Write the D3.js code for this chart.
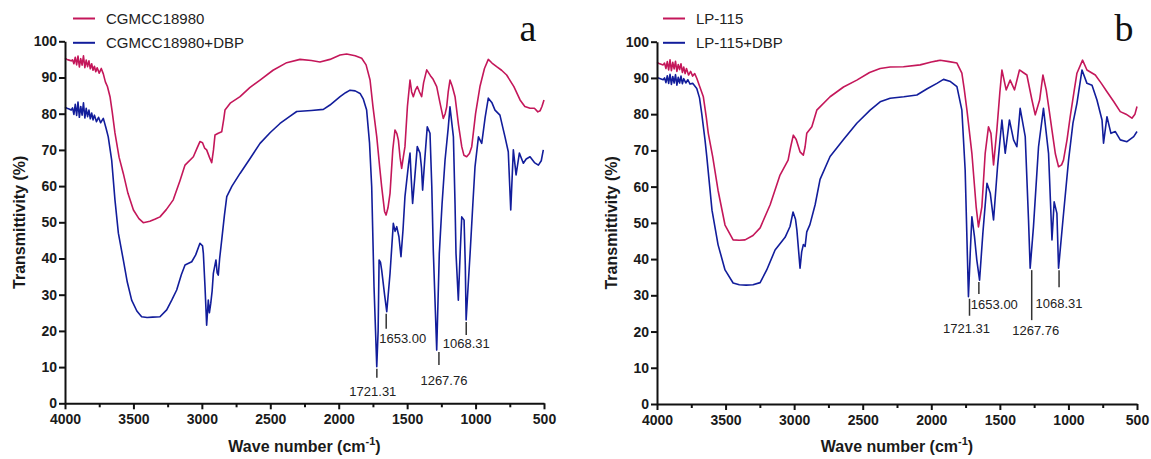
<!DOCTYPE html>
<html>
<head>
<meta charset="utf-8">
<script src="https://cdn.jsdelivr.net/npm/d3@7"></script>
<style>
  body { margin: 0; background: #fff; }
  svg { display: block; font-family: Arial, "Liberation Sans", sans-serif; }
  .tick text { font-size: 14px; font-weight: bold; fill: #1a1a1a; }
  .tick line, .domain { stroke: #111; stroke-width: 2px; }
</style>
</head>
<body>
<div class="vis-ftir"></div>
<script>
// wavenumber (cm-1), transmittance (%)
const cgmcc = [[4000,95.3],[3985,95.0],[3970,94.8],[3955,94.6],[3945,94.9],[3935,93.8],[3925,95.6],[3915,93.5],[3905,95.9],[3895,92.9],[3885,95.2],[3875,93.4],[3865,96.0],[3855,92.7],[3845,94.8],[3835,93.0],[3825,94.6],[3815,92.4],[3805,93.8],[3795,92.0],[3785,93.1],[3775,91.6],[3765,92.7],[3750,91.2],[3735,92.5],[3720,91.0],[3705,88.8],[3690,87.5],[3671,84.7],[3655,80.5],[3635,74.7],[3605,68],[3574,63.5],[3540,58],[3500,53.4],[3460,51],[3428,49.9],[3380,50.3],[3340,50.9],[3306,51.5],[3260,53.5],[3209,56.2],[3160,61.5],[3123,65.8],[3062,68.1],[3035,70.5],[3014,72.3],[2995,72],[2980,70.5],[2965,70],[2945,68],[2928,66.5],[2915,70],[2904,74.1],[2880,74.6],[2855,75],[2840,78.5],[2831,81],[2790,83],[2721,84.7],[2650,87.2],[2575,89.3],[2480,92],[2380,94.1],[2283,95],[2200,94.7],[2137,94.3],[2064,95],[1990,96.2],[1942,96.5],[1880,96],[1832,95.3],[1800,93.5],[1771,89.3],[1750,82],[1722,73.6],[1700,65],[1686,59.8],[1665,53],[1654,52],[1640,54],[1625,58],[1605,70],[1589,75.5],[1575,74.5],[1564,72.7],[1552,68],[1540,64.9],[1528,68],[1516,70.9],[1498,82],[1479,89.3],[1467,86],[1455,84.7],[1440,86.5],[1426,87.5],[1410,86],[1394,84.7],[1380,88.5],[1357,92.1],[1330,90.5],[1310,89.5],[1284,87.5],[1260,83],[1236,78.7],[1222,80],[1211,81.9],[1200,86],[1187,89.3],[1170,87.5],[1150,84.7],[1125,77],[1101,70.9],[1085,68.5],[1065,68.1],[1045,69],[1028,70.9],[1000,80],[968,87.5],[935,92.5],[907,95],[880,94],[846,93],[810,92],[773,90.7],[720,87.5],[675,83.8],[640,82],[602,81.5],[570,81.5],[545,80.5],[529,80.8],[515,82],[500,83.8]];

const cgmccDbp = [[4000,81.8],[3985,81.5],[3970,81.3],[3955,81.0],[3945,81.6],[3935,79.8],[3925,82.6],[3915,79.5],[3905,83.2],[3895,79.0],[3885,82.0],[3875,79.6],[3865,83.0],[3855,78.8],[3845,81.5],[3835,79.2],[3825,81.0],[3815,78.6],[3805,80.2],[3795,78.3],[3785,79.6],[3770,77.8],[3755,79],[3740,77.5],[3720,78.7],[3700,76],[3684,73.6],[3659,67.2],[3635,56.2],[3610,47],[3574,39.6],[3545,33.5],[3513,28.5],[3475,25.5],[3440,23.9],[3400,23.7],[3360,23.8],[3306,23.9],[3257,25.8],[3220,28.5],[3184,31.3],[3150,35.5],[3123,38.2],[3074,39.1],[3045,41],[3014,44.2],[2995,43.5],[2989,41.4],[2977,32.2],[2965,21.6],[2953,28.5],[2945,25],[2935,27.6],[2925,31],[2916,35.9],[2897,39.6],[2888,36],[2880,35.4],[2870,40],[2855,45.1],[2835,52],[2818,57.1],[2780,60],[2721,63.5],[2650,67.5],[2575,71.8],[2500,74.8],[2429,77.3],[2360,79.2],[2307,80.6],[2200,80.9],[2112,81.2],[2064,82.4],[1990,84.7],[1950,85.8],[1917,86.5],[1880,86.3],[1844,85.6],[1820,84],[1796,81],[1775,72],[1759,59.8],[1742,32.2],[1722,10.1],[1712,20],[1705,39.6],[1695,39],[1686,36.8],[1665,30],[1649,25.3],[1625,35.9],[1601,49.7],[1588,47.5],[1576,48.8],[1560,46],[1545,40.5],[1530,48],[1516,57.1],[1490,66],[1479,69.1],[1470,62],[1460,55.2],[1445,62],[1426,70.9],[1406,69.1],[1395,65],[1387,58.9],[1370,68],[1353,76.4],[1333,74.6],[1320,60],[1309,42.3],[1284,14.7],[1265,41.4],[1245,55],[1223,67.2],[1200,76],[1187,81.9],[1162,73.6],[1150,55],[1143,41.4],[1126,28.5],[1112,42],[1101,51.5],[1084,50.6],[1075,38],[1069,23],[1055,32],[1040,41.4],[1020,55],[1004,65.4],[979,73.6],[955,71.8],[930,79],[907,84.3],[880,83],[858,81],[822,79.6],[800,76],[785,73.6],[761,69.5],[743,53.4],[724,70],[704,63.1],[680,69.1],[651,66.3],[630,67.5],[602,68.1],[570,66.5],[541,65.8],[520,67],[505,70]];

const lp115 = [[4000,94.3],[3985,94.0],[3970,93.8],[3955,93.6],[3945,94.1],[3935,92.6],[3925,94.5],[3915,92.2],[3905,95.0],[3895,92.0],[3885,94.3],[3875,92.5],[3865,94.6],[3855,91.8],[3845,93.7],[3835,92.3],[3825,93.9],[3815,91.5],[3805,93.0],[3795,91.2],[3785,92.6],[3770,90.8],[3755,91.8],[3740,90.5],[3725,91.2],[3710,89.9],[3690,87.8],[3662,84.8],[3640,79],[3626,74.7],[3594,68.3],[3555,59],[3504,49.4],[3445,45.3],[3400,45.2],[3358,45.3],[3300,46.5],[3248,48.6],[3175,55],[3103,63.2],[3044,67.3],[3025,71],[3006,74.2],[2985,73],[2957,69.6],[2933,68.7],[2920,71],[2908,74.7],[2871,76.5],[2835,81.1],[2738,84.8],[2640,87.5],[2543,89.4],[2450,91.5],[2373,92.6],[2300,93],[2203,93.1],[2081,93.6],[2000,94.4],[1959,94.7],[1935,94.9],[1870,94.5],[1813,94.1],[1777,91.3],[1760,87],[1740,81.1],[1704,69.2],[1673,54.5],[1656,48.9],[1631,54.5],[1607,69.2],[1583,76.5],[1565,74.7],[1546,66],[1522,75.6],[1500,86],[1485,92.2],[1454,86.7],[1425,89.4],[1393,86.7],[1357,92.2],[1330,91.5],[1303,90.8],[1266,83.9],[1242,79.8],[1210,83.9],[1186,90.8],[1162,86.7],[1140,81],[1120,75.6],[1095,69],[1072,65.5],[1050,66],[1036,67.3],[1010,73],[987,79.3],[960,86],[938,91.3],[897,94.9],[865,92.2],[804,90.8],[760,88.5],[719,86.2],[670,83.5],[622,80.7],[580,80],[537,78.9],[515,80],[500,82.1]];

const lp115Dbp = [[4000,90.1],[3985,89.9],[3970,89.7],[3955,89.5],[3945,90.0],[3935,88.7],[3925,90.6],[3915,88.5],[3905,91.0],[3895,88.2],[3885,90.4],[3875,88.6],[3865,90.9],[3855,88.0],[3845,90.2],[3835,88.6],[3825,90.5],[3815,88.4],[3805,89.8],[3790,88.6],[3775,89.5],[3759,88.3],[3740,88.5],[3710,87.1],[3690,84.5],[3674,80.2],[3650,72.9],[3637,68.3],[3599,53.5],[3555,44],[3504,37],[3445,33.4],[3400,32.9],[3350,32.8],[3300,32.9],[3248,33.5],[3200,37],[3139,42.5],[3066,46],[3030,49],[3008,53],[2990,51],[2980,48],[2957,37.5],[2945,42],[2933,44],[2920,43.5],[2908,47.5],[2885,49.5],[2847,55],[2811,62],[2738,68.3],[2640,73],[2543,77.5],[2446,81.1],[2373,83.4],[2300,84.4],[2200,84.8],[2105,85.3],[2030,87],[1959,88.5],[1911,89.6],[1860,89],[1813,87.6],[1777,81.1],[1753,64.6],[1729,29.6],[1716,41.6],[1704,51.7],[1685,46.2],[1668,39.7],[1648,34.2],[1624,47.1],[1594,60.9],[1570,58.2],[1546,50.8],[1517,65.5],[1485,78.4],[1461,69.2],[1430,78.4],[1400,72.9],[1376,71],[1352,81.6],[1315,73.8],[1291,50.8],[1279,37.5],[1255,48.9],[1218,71],[1182,81.6],[1145,69.2],[1120,45.3],[1104,55.8],[1084,52.6],[1072,37.5],[1040,50.8],[999,67.3],[967,77.5],[938,83],[901,92.2],[865,88.5],[828,88],[792,83.9],[755,78.4],[744,72],[719,79.3],[690,74.7],[658,75.2],[622,72.9],[573,72.4],[524,73.8],[500,75.2]];

const xTicks = [4000, 3500, 3000, 2500, 2000, 1500, 1000, 500];
const xMinor = [3750, 3250, 2750, 2250, 1750, 1250, 750];
const yTicks = [0, 10, 20, 30, 40, 50, 60, 70, 80, 90, 100];

// peak labels: wavenumber, label, transmittance at the peak (blue trace)
const peaksA = [[1721.31, '1721.31', 10.1], [1653.00, '1653.00', 25.3], [1267.76, '1267.76', 14.7], [1068.31, '1068.31', 23]];
const peaksB = [[1721.31, '1721.31', 29.6], [1653.00, '1653.00', 34.2], [1267.76, '1267.76', 37.5], [1068.31, '1068.31', 37.5]];

const colors = ['#c4175a', '#121d9b'];

const panels = [
    {
        left: 65, right: 544, top: 41.3, bottom: 403.3, yTitleX: 20, legendX: 73, letter: 'a', letterX: 528,
        series: [cgmcc, cgmccDbp], names: ['CGMCC18980', 'CGMCC18980+DBP'], peaks: peaksA,
        // line length, text dx, text dy below line end, anchor
        peakLayout: [[9, -4, 18, 'middle'], [15, -7, 14, 'start'], [13, 5, 19.5, 'middle'], [13, 0, 12.5, 'middle']]
    },
    {
        left: 657, right: 1137, top: 41.7, bottom: 404, yTitleX: 612, legendX: 663, letter: 'b', letterX: 1124,
        series: [lp115, lp115Dbp], names: ['LP-115', 'LP-115+DBP'], peaks: peaksB,
        peakLayout: [[17, -3, 17.5, 'middle'], [12, -8, 14.5, 'start'], [50, 4, 15, 'middle'], [17, 0, 20.5, 'middle']]
    }
];

const svg = d3.select('.vis-ftir').append('svg')
    .attr('width', 1151)
    .attr('height', 459);

panels.forEach(p => {
    let x = d3.scaleLinear().domain([4000, 500]).range([p.left, p.right]);
    let y = d3.scaleLinear().domain([0, 100]).range([p.bottom, p.top]);
    let g = svg.append('g');

    // series
    const line = d3.line().x(d => x(d[0])).y(d => y(d[1]));
    p.series.forEach((s, i) => {
        g.append('path')
            .datum(s)
            .attr('fill', 'none')
            .attr('stroke', colors[i])
            .attr('stroke-width', 1.6)
            .attr('stroke-linejoin', 'round')
            .attr('d', line);
    });

    // minor x ticks
    g.append('g')
        .attr('transform', 'translate(0,' + p.bottom + ')')
        .call(d3.axisBottom(x).tickValues(xMinor).tickSize(4).tickFormat(''))
        .call(a => a.select('.domain').remove());

    // x axis
    g.append('g')
        .attr('transform', 'translate(0,' + p.bottom + ')')
        .call(d3.axisBottom(x).tickValues(xTicks).tickSize(6).tickSizeOuter(0).tickPadding(5).tickFormat(d3.format('d')));

    // y axis
    g.append('g')
        .attr('transform', 'translate(' + p.left + ',0)')
        .call(d3.axisLeft(y).tickValues(yTicks).tickSize(6).tickSizeOuter(0).tickPadding(2));

    // axis titles
    const xt = g.append('text')
        .attr('x', (p.left + p.right) / 2)
        .attr('y', 452)
        .attr('text-anchor', 'middle')
        .attr('font-size', 16)
        .attr('font-weight', 'bold')
        .attr('fill', '#1a1a1a');
    xt.append('tspan').text('Wave number (cm');
    xt.append('tspan').attr('dy', -7).attr('font-size', 11).text('-1');
    xt.append('tspan').attr('dy', 7).text(')');

    g.append('text')
        .attr('transform', 'translate(' + (p.yTitleX + 5) + ',' + (p.top + p.bottom) / 2 + ') rotate(-90)')
        .attr('text-anchor', 'middle')
        .attr('font-size', 16)
        .attr('font-weight', 'bold')
        .attr('fill', '#1a1a1a')
        .text('Transmittivity (%)');

    // legend
    p.names.forEach((n, i) => {
        const ly = 18.5 + i * 24.3;
        g.append('line')
            .attr('x1', p.legendX).attr('x2', p.legendX + 22)
            .attr('y1', ly).attr('y2', ly)
            .attr('stroke', colors[i]).attr('stroke-width', 2);
        g.append('text')
            .attr('x', p.legendX + 33).attr('y', ly + 5.5)
            .attr('font-size', 15)
            .attr('fill', '#222')
            .text(n);
    });

    // panel letter
    g.append('text')
        .attr('x', p.letterX).attr('y', 41)
        .attr('text-anchor', 'middle')
        .attr('font-family', '"Liberation Serif", "DejaVu Serif", serif')
        .attr('font-size', 38)
        .attr('fill', '#111')
        .text(p.letter);

    // peak annotations
    p.peaks.forEach((pk, i) => {
        const [len, dx, dy, anchor] = p.peakLayout[i];
        const px = x(pk[0]);
        const y0 = y(pk[2]) + 2;
        g.append('line')
            .attr('x1', px).attr('x2', px)
            .attr('y1', y0).attr('y2', y0 + len)
            .attr('stroke', '#333').attr('stroke-width', 1.5);
        g.append('text')
            .attr('x', px + dx).attr('y', y0 + len + dy)
            .attr('text-anchor', anchor)
            .attr('font-size', 13)
            .attr('fill', '#222')
            .text(pk[1]);
    });
});
</script>
</body>
</html>
